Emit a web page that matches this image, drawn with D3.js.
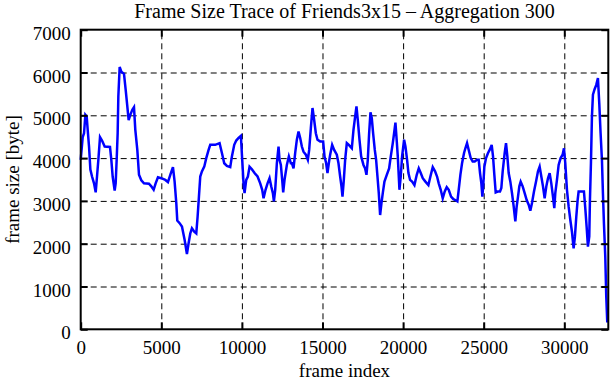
<!DOCTYPE html>
<html lang="en">
<head>
  <meta charset="UTF-8">
  <title>Frame Size Trace of Friends3x15</title>
  <style>
    body { margin: 0; background: #fff; }
    text { font-family: "Liberation Serif", "DejaVu Serif", serif; fill: #000; }
    .grid line { stroke: #000; stroke-width: 1; stroke-dasharray: 6,4; }
    .grid path { display: none; }
    .axis path { display: none; }
    .axis line { stroke: #000; stroke-width: 2; }
  </style>
</head>
<body>
  <div id="chart"></div>

  <script src="https://d3js.org/d3.v7.min.js"></script>
  <script>

    // frame index of each point
    const frames = [
      0, 124, 207, 289, 372, 434, 517, 600, 703, 826, 930, 1012, 1095, 1198, 1322, 1488,
      1818, 1900, 1983, 2107, 2169, 2231, 2293, 2335, 2417, 2520, 2686, 2789, 2892, 2975,
      3078, 3202, 3306, 3388, 3512, 3616, 3760, 3925, 4235, 4380, 4525, 4649, 4793, 5000,
      5248, 5413, 5578, 5723, 5826, 5930, 5991, 6136, 6281, 6446, 6590, 6693, 6797, 6900,
      7045, 7169, 7252, 7335, 7417, 7520, 7665, 7789, 7934, 8037, 8347, 8616, 8760, 8905,
      9070, 9277, 9380, 9525, 9649, 9793, 9938, 10020, 10103, 10165, 10269, 10372, 10475,
      10620, 10785, 10971, 11136, 11260, 11343, 11467, 11591, 11715, 11818, 11922, 11984,
      12066, 12169, 12273, 12335, 12417, 12500, 12562, 12645, 12789, 12913, 13037, 13100,
      13203, 13306, 13409, 13513, 13616, 13719, 13822, 13967, 14091, 14174, 14277, 14380,
      14483, 14587, 14690, 14855, 15041, 15124, 15227, 15310, 15392, 15475, 15599, 15723,
      15888, 15992, 16095, 16178, 16240, 16323, 16405, 16509, 16633, 16819, 16922, 17025,
      17108, 17190, 17294, 17397, 17542, 17645, 17728, 17810, 17893, 17976, 18058, 18141,
      18244, 18327, 18410, 18492, 18575, 18658, 18740, 18843, 18988, 19133, 19236, 19360,
      19442, 19525, 19608, 19670, 19773, 19855, 19938, 20062, 20145, 20248, 20331, 20434,
      20558, 20703, 20847, 20971, 21095, 21219, 21384, 21570, 21694, 21839, 21983, 22107,
      22211, 22335, 22459, 22583, 22707, 22831, 22975, 23120, 23285, 23368, 23450, 23554,
      23657, 23781, 23864, 23967, 24071, 24194, 24318, 24442, 24587, 24690, 24773, 24855,
      24917, 24979, 25041, 25145, 25269, 25393, 25496, 25579, 25661, 25744, 25868, 26013,
      26095, 26178, 26302, 26385, 26468, 26550, 26653, 26757, 26860, 26963, 27046, 27129,
      27211, 27294, 27418, 27542, 27666, 27790, 27893, 27996, 28120, 28244, 28368, 28471,
      28575, 28678, 28781, 28885, 28988, 29091, 29194, 29298, 29380, 29442, 29545, 29649,
      29773, 29897, 29979, 30062, 30165, 30269, 30372, 30475, 30578, 30661, 30744, 30827,
      30889, 31095, 31219, 31302, 31385, 31467, 31550, 31591, 31653, 31715, 31777, 31880,
      31984, 32087, 32170, 32252, 32335, 32397, 32459, 32542, 32604, 32666
    ];

    // frame size [byte] at each of those frames
    const sizes = [
      3960, 4490, 4580, 5010, 4970, 4660, 4270, 3730, 3570, 3410, 3200, 3570, 3960, 4490, 4410, 4270,
      4260, 3960, 3570, 3240, 3410, 3960, 4580, 5440, 6130, 6020, 5970, 5600, 5210, 4890,
      5010, 5130, 5190, 4660, 4190, 3610, 3480, 3410, 3400, 3340, 3260, 3410, 3550, 3530,
      3490, 3440, 3630, 3790, 3450, 2950, 2540, 2480, 2400, 2090, 1760, 2010, 2240, 2360,
      2280, 2240, 2630, 3100, 3570, 3690, 3800, 4000, 4190, 4310, 4310, 4350, 4120, 3880,
      3820, 3790, 4040, 4310, 4410, 4470, 4520, 3960, 3410, 3180, 3490, 3570, 3800,
      3740, 3650, 3570, 3410, 3260, 3060, 3260, 3410, 3530, 3340, 3180, 2990,
      3260, 3880, 4270, 3960, 3840, 3490, 3200, 3490, 3840, 4040, 3880, 3880,
      3760, 4120, 4430, 4620, 4470, 4270, 4150, 4080, 3960, 4190, 4700, 5170,
      4890, 4580, 4430, 4390, 4390, 4040, 3880, 3650, 3880, 4080, 4310, 4190,
      4080, 3880, 3570, 3340, 3100, 3490, 3960, 4350, 4310, 4230, 4660, 4970,
      5210, 4890, 4430, 4040, 3840, 3760, 3610, 3960, 4580, 5070, 4930, 4580,
      4190, 3960, 3570, 3180, 2670, 2950, 3180, 3450, 3610, 3760, 4040, 4350,
      4580, 4830, 4390, 4040, 3260, 3570, 4040, 4430, 4270, 3960, 3650, 3490,
      3450, 3370, 3610, 3760, 3650, 3530, 3450, 3370, 3570, 3790, 3690, 3570,
      3410, 3260, 3060, 3220, 3320, 3260, 3100, 3040, 3010, 2990, 3260, 3610,
      3880, 4120, 4230, 4350, 4190, 4000, 3920, 3920, 3960, 3960, 3650, 3410,
      3100, 3410, 3800, 4000, 4120, 4210, 4310, 4040, 3610, 3200, 3220, 3220,
      3300, 3690, 4120, 4350, 4040, 3650, 3450, 3180, 2870, 2520, 2870, 3100,
      3340, 3450, 3340, 3180, 3020, 2910, 2770, 2950, 3220, 3450, 3690, 3800,
      3570, 3340, 3060, 3340, 3530, 3650, 3410, 3100, 2830, 3180, 3490, 3840,
      4000, 4080, 4230, 3880, 3260, 2870, 2560, 2280, 1890, 2170, 2630, 3020,
      3220, 3220, 3220, 2830, 2400, 1930, 2170, 3020, 3880, 4970, 5480, 5610,
      5710, 5870, 5280, 4580, 3960, 3180, 2480, 1700, 760, 160
    ];

    const xTicks = [0, 5000, 10000, 15000, 20000, 25000, 30000];
    const yTicks = [0, 1000, 2000, 3000, 4000, 5000, 6000, 7000];
    const xMax = 32730, yMax = 7000;

    const width = 611,
          height = 380,
          margin = {top: 29.7, right: 2.7, bottom: 50.7, left: 80.7};

    const serif = "Liberation Serif, DejaVu Serif, serif";

    const svg = d3.select("#chart")
      .append("svg")
      .attr("width", width)
      .attr("height", height);

    let x = d3.scaleLinear([0, xMax], [margin.left, width - margin.right]);
    let y = d3.scaleLinear([0, yMax], [height - margin.bottom, margin.top]);
    const plotW = width - margin.left - margin.right,
          plotH = height - margin.top - margin.bottom;

    // dashed grid
    svg.append("g")
      .attr("class", "grid")
      .attr("transform", `translate(0,${height - margin.bottom})`)
      .call(d3.axisBottom(x).tickValues(xTicks.slice(1)).tickSize(-plotH).tickFormat(""));

    svg.append("g")
      .attr("class", "grid")
      .attr("transform", `translate(${margin.left},0)`)
      .call(d3.axisLeft(y).tickValues(yTicks.slice(1, -1)).tickSize(-plotW).tickFormat(""));

    // the trace
    const line = d3.line()
      .x(d => x(d[0]))
      .y(d => y(d[1]));

    svg.append("path")
      .datum(frames.map((f, i) => [f, sizes[i]]))
      .attr("fill", "none")
      .attr("stroke", "#0000ff")
      .attr("stroke-width", 2.5)
      .attr("stroke-linejoin", "miter")
      .attr("d", line);

    // inward ticks on all four sides, labels bottom and left
    svg.append("g")
      .attr("class", "axis")
      .attr("transform", `translate(0,${height - margin.bottom})`)
      .call(d3.axisBottom(x).tickValues(xTicks).tickFormat(d3.format("d"))
        .tickSizeInner(-7).tickSizeOuter(0).tickPadding(11))
      .attr("font-family", serif)
      .attr("font-size", 19);

    svg.append("g")
      .attr("class", "axis")
      .attr("transform", `translate(0,${margin.top})`)
      .call(d3.axisTop(x).tickValues(xTicks).tickSizeInner(-7).tickSizeOuter(0).tickFormat(""));

    svg.append("g")
      .attr("class", "axis")
      .attr("transform", `translate(${margin.left},0)`)
      .call(d3.axisLeft(y).tickValues(yTicks).tickFormat(d3.format("d"))
        .tickSizeInner(-7).tickSizeOuter(0).tickPadding(10))
      .attr("font-family", serif)
      .attr("font-size", 19)
      .selectAll("text").attr("dy", "0.5em");

    svg.append("g")
      .attr("class", "axis")
      .attr("transform", `translate(${width - margin.right},0)`)
      .call(d3.axisRight(y).tickValues(yTicks).tickSizeInner(-7).tickSizeOuter(0).tickFormat(""));

    // border
    svg.append("rect")
      .attr("x", margin.left)
      .attr("y", margin.top)
      .attr("width", plotW)
      .attr("height", plotH)
      .attr("fill", "none")
      .attr("stroke", "#000")
      .attr("stroke-width", 2);

    svg.append("text") // title
      .attr("x", margin.left + plotW / 2)
      .attr("y", 18)
      .attr("text-anchor", "middle")
      .style("font-size", "20px")
      .text("Frame Size Trace of Friends3x15 – Aggregation 300");

    svg.append("text") // x axis label
      .attr("x", margin.left + plotW / 2)
      .attr("y", 377)
      .attr("text-anchor", "middle")
      .style("font-size", "19px")
      .text("frame index");

    svg.append("text") // y axis label
      .attr("transform", `translate(19,${margin.top + plotH / 2}) rotate(-90)`)
      .attr("text-anchor", "middle")
      .style("font-size", "19px")
      .text("frame size [byte]");

  </script>
</body>
</html>
